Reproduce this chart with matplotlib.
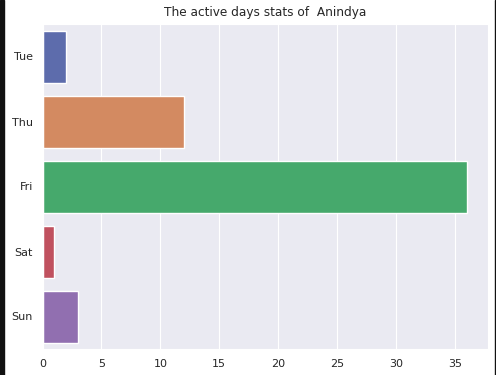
import numpy as np
import matplotlib
matplotlib.use("Agg")
import matplotlib.pyplot as plt
import seaborn as sns
from matplotlib.patches import Rectangle

days = ["Tue", "Thu", "Fri", "Sat", "Sun"]
counts = [2, 12, 36, 1, 3]
bar_colors = ["#5d6cac", "#d38a61", "#46a96c", "#c0515f", "#916fb0"]

sns.set_style("darkgrid")
plt.rcParams['font.family'] = ['DejaVu Sans']

fig = plt.figure(figsize=(4.96, 3.75), dpi=100)
ax = fig.add_axes([42.5/496, 1 - 349/375, 445.5/496, 325/375])

y = np.arange(len(days))
ax.barh(y, counts, height=0.8, color=bar_colors, edgecolor="white")
ax.set_yticks(y)
ax.set_yticklabels(days)
ax.set_ylim(len(days) - 0.5, -0.5)
ax.grid(axis="y", visible=False)
ax.tick_params(labelsize=8)
ax.set_title("The active days stats of  Anindya", fontsize=8.7)

# dark screenshot borders
fig.patches.append(Rectangle((0, 0), 4/496, 1, transform=fig.transFigure,
                             color="#111111", zorder=10))
fig.patches.append(Rectangle((495/496, 0), 1/496, 1, transform=fig.transFigure,
                             color="#111111", zorder=10))

fig.savefig("out.png", dpi=100)
